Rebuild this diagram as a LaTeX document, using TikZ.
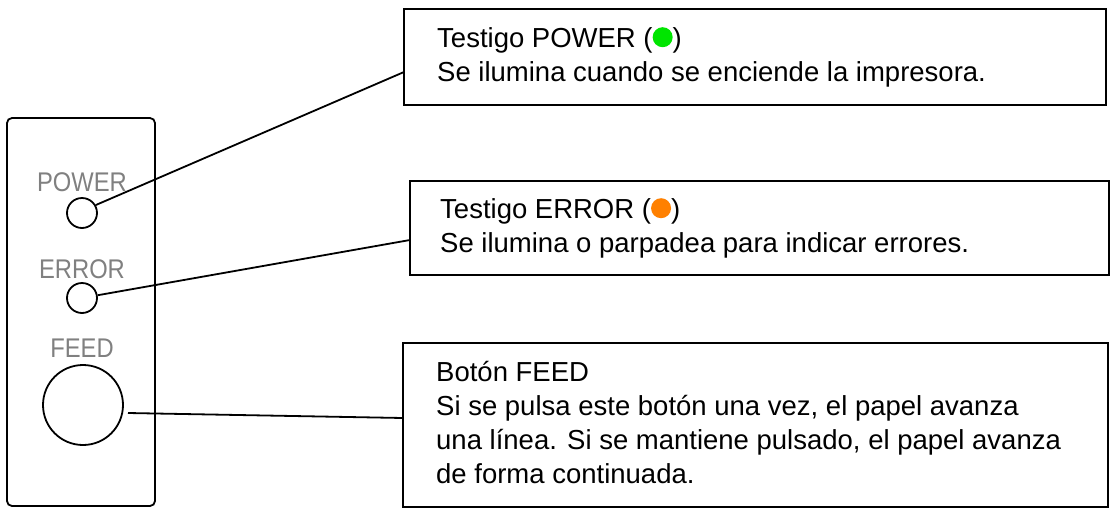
\documentclass[tikz,border=0pt]{standalone}
\usepackage{fontspec}
\setmainfont{Liberation Sans}
\begin{document}
\begin{tikzpicture}[x=1pt,y=-1pt,
  box/.style={draw,line width=2.2pt,anchor=north west,inner sep=0pt},
  txt/.style={anchor=north west,align=left,inner sep=0pt,font=\fontsize{27.5}{34}\selectfont},
  lbl/.style={text=gray,font=\fontsize{27}{27}\selectfont,xscale=0.88},
  led/.style={draw,line width=1.8pt,circle,inner sep=0pt},
  conn/.style={line width=1.8pt}]
\useasboundingbox (0,0) rectangle (1112,509);
\draw[line width=1.8pt,rounded corners=5pt] (7,118) rectangle (155,506);
\node[lbl] (lp) at (82,182) {POWER};
\node[led,minimum size=30pt] (p) at (82,213) {};
\node[lbl] (le) at (82,269) {ERROR};
\node[led,minimum size=30pt] (e) at (82,298) {};
\node[lbl] (lf) at (82,348) {FEED};
\node[led,minimum size=80pt] (f) at (83,405) {};
\draw[box] (404,9) rectangle (1106,105);
\draw[box] (410,181) rectangle (1109,275);
\draw[box] (403,343) rectangle (1108,507);
\node[txt] (t1) at (437,27) {Testigo POWER (\tikz\fill[green!90!black] (0,0) circle (10pt);)\\Se ilumina cuando se enciende la impresora.};
\node[txt] (t2) at (440,198) {Testigo ERROR (\tikz\fill[orange] (0,0) circle (10pt);)\\Se ilumina o parpadea para indicar errores.};
\node[txt] (t3) at (436,361) {Botón FEED\\Si se pulsa este botón una vez, el papel avanza\\una línea. Si se mantiene pulsado, el papel avanza\\de forma continuada.};
\coordinate (c1) at (404,72);
\coordinate (c2) at (410,240);
\coordinate (c3) at (403,418);
\draw[conn] (p.30) -- (c1);
\draw[conn] (e.10) -- (c2);
\draw[conn] (128,413) -- (c3);
\end{tikzpicture}
\end{document}
